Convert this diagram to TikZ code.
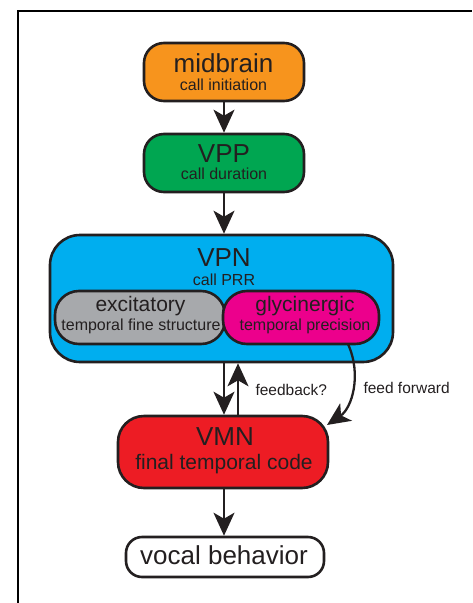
\documentclass[tikz,border=0pt]{standalone}
\usepackage{fontspec}
\setmainfont{Liberation Sans}
\usetikzlibrary{arrows.meta,calc}
\definecolor{cOrange}{HTML}{F7941D}
\definecolor{cGreen}{HTML}{00A651}
\definecolor{cCyan}{HTML}{00AEEF}
\definecolor{cGray}{HTML}{A7A9AC}
\definecolor{cMagenta}{HTML}{EC008C}
\definecolor{cRed}{HTML}{ED1C24}
\definecolor{cInk}{HTML}{231F20}
\tikzset{
  box/.style={draw=cInk, line width=2.6pt, rectangle, inner sep=0pt},
  arr/.style={draw=cInk, line width=2.3pt, -{Stealth[length=23pt,width=21pt,inset=6pt]}},
  big/.style={text=cInk, anchor=base, font=\fontsize{26}{30}\selectfont},
  mid/.style={text=cInk, anchor=base, font=\fontsize{21}{25}\selectfont},
  small/.style={text=cInk, anchor=base, font=\fontsize{16}{19}\selectfont},
  lbl/.style={text=cInk, anchor=base west, font=\fontsize{15.5}{18}\selectfont},
}
\begin{document}
\begin{tikzpicture}[x=1pt,y=-1pt]
\useasboundingbox (0,0) rectangle (472,603);
% frame
\coordinate (fA) at (18,603);
\coordinate (fB) at (18,11);
\coordinate (fC) at (472,11);
\draw[line width=1.5pt, black] (fA) -- (fB) -- (fC);

% boxes
\node[box, fill=cOrange, minimum width=160pt, minimum height=58pt, rounded corners=20pt] (midb) at (224,72) {};
\node[box, fill=cGreen, minimum width=160pt, minimum height=58pt, rounded corners=20pt] (vpp) at (224,163) {};
\node[box, fill=cCyan, minimum width=343pt, minimum height=127pt, rounded corners=30pt] (vpn) at (221.5,298.5) {};
\node[box, fill=cGray, minimum width=170pt, minimum height=53pt, rounded corners=24pt] (exc) at (140,317.5) {};
\node[box, fill=cMagenta, minimum width=156pt, minimum height=53pt, rounded corners=24pt] (gly) at (301,317.5) {};
\node[box, fill=cRed, minimum width=210pt, minimum height=72pt, rounded corners=26pt] (vmn) at (223,452) {};
\node[box, fill=white, minimum width=198pt, minimum height=40pt, rounded corners=16pt] (voc) at (225,557) {};

% texts
\node[big] (t1) at (223.5,72) {midbrain};
\node[small] (t2) at (223.5,90) {call initiation};
\node[big] (t3) at (224,162) {VPP};
\node[small] (t4) at (224,179) {call duration};
\node[big] (t5) at (224,266) {VPN};
\node[small] (t6) at (224,285) {call PRR};
\node[mid] (t7) at (140.5,311) {excitatory};
\node[small] (t8) at (141,330) {temporal fine structure};
\node[mid] (t9) at (305,311) {glycinergic};
\node[small] (t10) at (305,330) {temporal precision};
\node[big] (t11) at (225,445) {VMN};
\node[mid] (t12) at (224,469) {final temporal code};
\node[big] (t13) at (224,564) {vocal behavior};
\node[lbl] (t14) at (252,395) {feedback?};
\node[lbl] (t15) at (360,393) {feed forward};

% connectors
\draw[arr] (midb.south) -- (vpp.north);
\draw[arr] (vpp.south) -- (vpp.south |- vpn.north);
\draw[arr] (vpn.south -| vpp.south) -- (vmn.north -| vpp.south);
\draw[arr] ($(vmn.north -| vpp.south)+(14,0)$) -- ($(vpn.south -| vpp.south)+(14,0)$);
\draw[arr] (vmn.south -| vpp.south) -- (voc.north -| vpp.south);
\coordinate (ffs) at (348,344);
\coordinate (ffe) at (327,425);
\draw[arr] (ffs) .. controls (362,375) and (352,408) .. (ffe);
\end{tikzpicture}
\end{document}
